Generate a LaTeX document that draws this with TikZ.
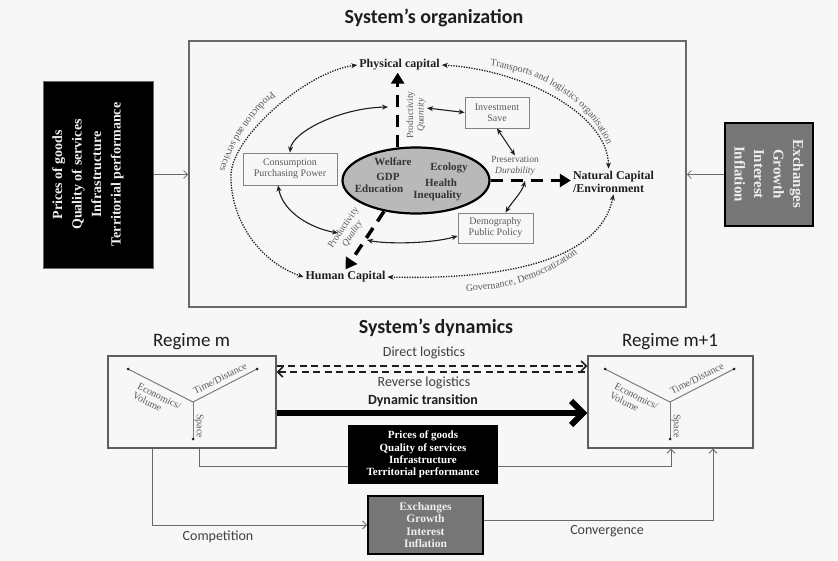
\documentclass[tikz,border=0pt]{standalone}
\usepackage{fontspec}
\setmainfont{Liberation Serif}
\setsansfont{Carlito}
\usetikzlibrary{arrows.meta,shapes.geometric,decorations.text,calc}

\definecolor{paper}{RGB}{247,247,247}
\definecolor{ink}{RGB}{30,30,30}
\definecolor{softtext}{RGB}{90,90,90}
\definecolor{frameline}{RGB}{105,105,105}
\definecolor{boxline}{RGB}{130,130,130}
\definecolor{coregray}{RGB}{185,185,185}
\definecolor{slate}{RGB}{118,118,118}
\definecolor{paletext}{RGB}{238,238,238}

\newcommand\arclbl{\fontsize{10}{12}\selectfont\color{softtext}}

\tikzset{
  title/.style={font=\sffamily\bfseries\fontsize{20}{22}\selectfont, text=ink, inner sep=0pt},
  regime/.style={font=\sffamily\fontsize{19}{21}\selectfont, text=ink, inner sep=0pt},
  midlbl/.style={font=\sffamily\fontsize{14}{16}\selectfont, text=ink!85, inner sep=0pt},
  capital/.style={font=\bfseries\fontsize{12}{13}\selectfont, text=ink, inner sep=2pt},
  corelbl/.style={font=\bfseries\fontsize{11}{13}\selectfont, text=ink!90, inner sep=0pt},
  smalllbl/.style={font=\fontsize{9.5}{10.5}\selectfont, text=softtext, align=center, inner sep=1pt},
  greybox/.style={draw=boxline, line width=0.8pt, align=center, font=\fontsize{10}{11}\selectfont, text=softtext, inner sep=0pt},
  heavydash/.style={line width=3.5pt, dash pattern=on 12pt off 8pt, -{Triangle[length=11pt,width=13pt]}},
  dotlink/.style={draw=ink, line width=1.3pt, dash pattern=on 1.3pt off 1.3pt, {Stealth[length=6pt,width=5pt]}-{Stealth[length=6pt,width=5pt]}},
  link/.style={draw=ink, line width=1.1pt, {Stealth[length=6pt,width=5pt]}-{Stealth[length=6pt,width=5pt]}},
  feed/.style={draw=frameline, line width=0.8pt, -{Straight Barb[length=4pt,width=8pt]}},
  sidetext/.style={align=center, text=paletext, inner sep=0pt},
  stagebox/.style={draw=frameline!90!black, line width=1.3pt, inner sep=0pt},
  axisline/.style={draw=softtext!80, line width=1pt},
  axislbl/.style={font=\fontsize{10}{10.5}\selectfont, text=softtext, inner sep=0pt},
  dashlink/.style={draw=ink, line width=1.6pt, dash pattern=on 7pt off 4.5pt},
  flow/.style={draw=frameline, line width=0.9pt, -{Straight Barb[length=4pt,width=8pt]}},
  flowplain/.style={draw=frameline, line width=0.9pt},
  darkpanel/.style={fill=black, align=center, text=white, font=\bfseries\fontsize{11}{12.3}\selectfont, inner sep=0pt},
  greypanel/.style={fill=slate, draw=black, line width=1.6pt, align=center, text=paletext, font=\bfseries\fontsize{11.5}{12.4}\selectfont, inner sep=0pt}
}

\begin{document}
\begin{tikzpicture}[x=1pt,y=-1pt]
\fill[paper] (0,0) rectangle (838,561);
\useasboundingbox (0,0) rectangle (838,561);

% ---------- titles ----------
\node[title] (orgtitle) at (434,18) {System’s organization};
\node[title] (dyntitle) at (436,328) {System’s dynamics};

% ---------- organisation frame and side panels ----------
\node[draw=frameline, line width=1.6pt, minimum width=497pt, minimum height=266pt, inner sep=0pt] (org) at (437.5,174) {};

\node[fill=black, draw=frameline, line width=0.6pt, minimum width=110pt, minimum height=187pt, inner sep=0pt] (lbox) at (98,174.5) {};
\node[sidetext, rotate=90, font=\bfseries\fontsize{14}{19.5}\selectfont] (ltext) at (88,174.5)
  {Prices of goods\\Quality of services\\Infrastructure\\Territorial performance};

\node[fill=slate, draw=black, line width=1.8pt, minimum width=88pt, minimum height=103pt, inner sep=0pt] (rbox) at (769,174.5) {};
\node[sidetext, rotate=-90, font=\bfseries\fontsize{15}{19.5}\selectfont] (rtext) at (769,174)
  {Exchanges\\Growth\\Interest\\Inflation};

\draw[feed] (lbox.east) -- (lbox.east -| org.west);
\draw[feed] (rbox.west) -- (rbox.west -| org.east);

% ---------- capitals ----------
\node[capital] (phys) at (399.5,65) {Physical capital};
\node[capital] (hum) at (345.5,277) {Human Capital};
\node[capital, align=left] (nat) at (613.5,181.5) {Natural Capital\\/Environment};

% ---------- core ellipse ----------
\node[ellipse, draw=black, fill=coregray, line width=2.2pt, minimum width=147pt, minimum height=66pt, inner sep=0pt] (core) at (416,180.5) {};
\node[corelbl] (w1) at (393,162) {Welfare};
\node[corelbl] (w2) at (388,176.5) {GDP};
\node[corelbl] (w3) at (379,189) {Education};
\node[corelbl] (w4) at (449,168) {Ecology};
\node[corelbl] (w5) at (441,183) {Health};
\node[corelbl] (w6) at (437.5,196) {Inequality};

% ---------- framed factors ----------
\node[greybox, minimum width=64pt, minimum height=31pt] (invest) at (497,112.5) {Investment\\Save};
\node[greybox, minimum width=94pt, minimum height=32pt] (consume) at (290,169) {Consumption\\Purchasing Power};
\node[greybox, minimum width=75pt, minimum height=30pt] (demog) at (495.5,228) {Demography\\Public Policy};

% ---------- small labels ----------
\node[smalllbl, rotate=90] (pq) at (416,115) {Productivity\\\textit{Quantity}};
\node[smalllbl, rotate=56] (pql) at (348,231) {Productivity\\\textit{Quality}};
\node[smalllbl] (pres) at (515,166) {Preservation\\\textit{Durability}};

% ---------- heavy dashed arrows out of the core ----------
\draw[heavydash] (core.119) -- (core.119 |- phys.south);
\draw[heavydash] (core.east) -- (core.east -| nat.west);
\draw[heavydash] (core.224) -- (hum.north);

% ---------- solid two-way links ----------
\coordinate (qtyL) at (388,107);
\coordinate (qtyR) at (427,108);
\coordinate (durab) at (525,181);
\coordinate (qualL) at (367,240);
\coordinate (qualP) at (338,233);

\draw[link] (consume.north) .. controls (292,132) and (340,108) .. (qtyL);
\draw[link] (qtyR) -- (invest.west);
\draw[link] (invest.south) -- (pres.north);
\draw[link] (durab) .. controls (522,192) and (512,202) .. ($(demog.north)+(10,0)$);
\draw[link] (qualL) .. controls (385,244) and (430,244) .. ($(demog.west)+(0,8)$);
\draw[link] ($(consume.south)+(-12,0)$) .. controls (283,212) and (310,228) .. (qualP);

% ---------- dotted outer cycle ----------
\coordinate (lwp) at (231,178);
\draw[dotlink] (phys.west) .. controls (305,72) and (228,140) .. (lwp) .. controls (231,215) and (255,260) .. (hum.west);
\draw[dotlink] (phys.east) .. controls (525,70) and (608,115) .. ($(nat.north)+(-5,0)$);
\draw[dotlink] (hum.east) .. controls (500,280) and (600,262) .. (nat.south);

\path[decorate, decoration={text along path, text={|\arclbl|Production and services}}]
  (272,92) .. controls (248,112) and (222,145) .. (214,195);
\path[decorate, decoration={text along path, text={|\arclbl|Transports and logistics organisation}}]
  (490,66) .. controls (542,72) and (598,102) .. (616,168);
\path[decorate, decoration={text along path, text={|\arclbl|Governance, Democratization}}]
  (466,291) .. controls (520,290) and (572,268) .. (605,226);

% ---------- dynamics: regimes ----------
\node[regime] (rmlabel) at (191.5,342) {Regime m};
\node[regime] (rm1label) at (670,342) {Regime m+1};
\node[stagebox, minimum width=168pt, minimum height=92pt] (rm) at (192,402) {};
\node[stagebox, minimum width=165pt, minimum height=92pt] (rm1) at (670.5,402) {};

\foreach \cx/\tag in {193/a,670/b}{
  \coordinate (o\tag) at (\cx,402);
  \coordinate (l\tag) at (\cx-65,369);
  \coordinate (r\tag) at (\cx+64,369);
  \coordinate (d\tag) at (\cx,439);
  \draw[axisline] (l\tag) -- (o\tag) -- (r\tag);
  \draw[axisline] (o\tag) -- (d\tag);
  \fill[ink] (l\tag) circle (1.5pt) (r\tag) circle (1.5pt) (d\tag) circle (1.5pt);
  \node[axislbl, rotate=27] (t\tag) at (\cx+27,378.5) {Time/Distance};
  \node[axislbl, rotate=-27, align=left] (e\tag) at (\cx-36,401) {Economics/\\Volume};
  \node[axislbl, rotate=-90] (s\tag) at (\cx+6,426) {Space};
}

% ---------- logistics and transition ----------
\draw[dashlink, -{Straight Barb[length=5pt,width=10pt]}] ($(rm.east)+(0,-36)$) -- ($(rm1.west)+(0,-36)$);
\draw[dashlink, {Straight Barb[length=5pt,width=10pt]}-] ($(rm.east)+(0,-30)$) -- ($(rm1.west)+(0,-30)$);
\node[midlbl] (direct) at (424,353) {Direct logistics};
\node[midlbl] (reverse) at (424,383) {Reverse logistics};
\node[midlbl, font=\sffamily\bfseries\fontsize{14}{16}\selectfont, text=ink] (dyn) at (423,401) {Dynamic transition};
\draw[draw=black, line width=6pt, -{Straight Barb[length=12pt,width=24pt]}] ($(rm.east)+(0,11)$) -- ($(rm1.west)+(0,11)$);

% ---------- factor panels ----------
\node[darkpanel, minimum width=150pt, minimum height=59pt] (bpan) at (423,454.5)
  {Prices of goods\\Quality of services\\Infrastructure\\Territorial performance};
\node[greypanel, minimum width=115pt, minimum height=58pt] (gpan) at (425.5,525)
  {Exchanges\\Growth\\Interest\\Inflation};

\draw[flow] ($(rm.south)+(-40,0)$) |- (gpan.west);
\draw[flowplain] ($(rm.south)+(7,0)$) |- ($(bpan.west)+(0,11.5)$);
\draw[flow] ($(bpan.east)+(0,11.5)$) -| ($(rm1.south)+(0.5,0)$);
\draw[flow] ($(gpan.east)+(0,-5)$) -| ($(rm1.south)+(42.5,0)$);
\node[midlbl] (compet) at (218,537) {Competition};
\node[midlbl] (conv) at (607,531) {Convergence};
\end{tikzpicture}
\end{document}
